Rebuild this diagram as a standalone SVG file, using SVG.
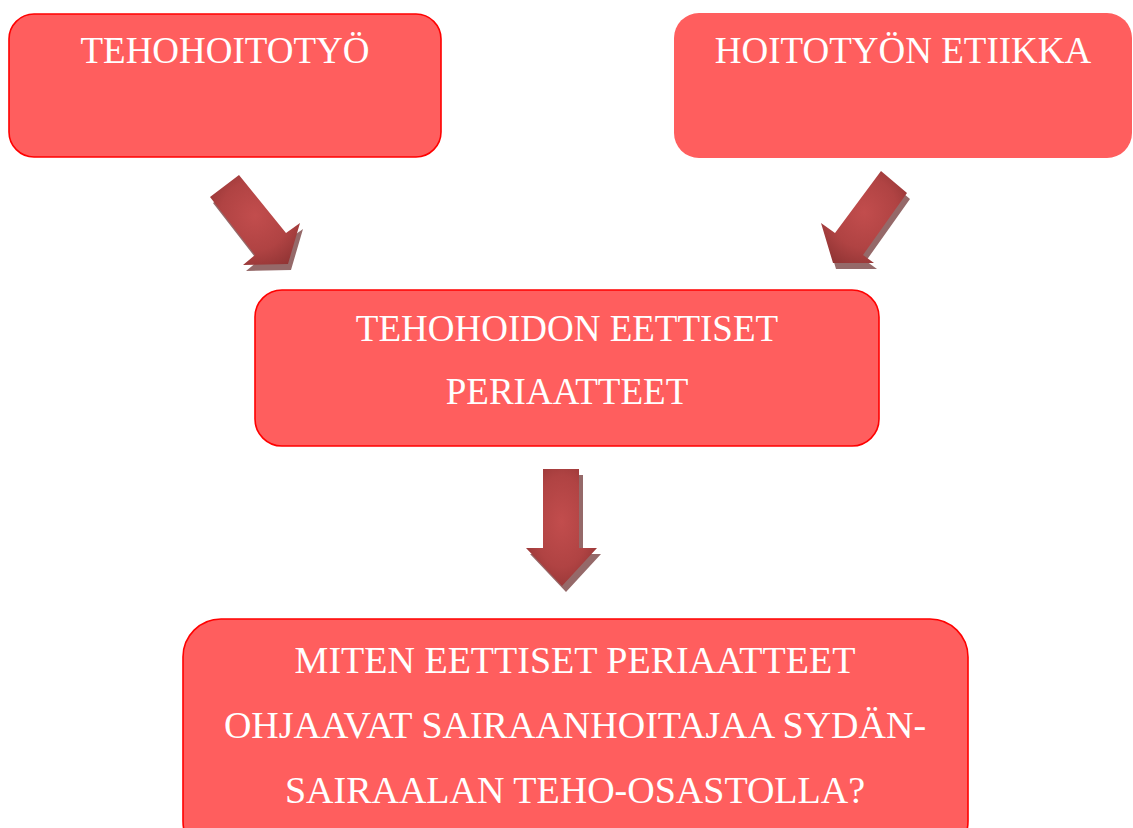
<svg xmlns="http://www.w3.org/2000/svg" width="1133" height="828" viewBox="0 0 1133 828">
  <defs>
    <style>
      .box { fill: #FF5E5E; stroke: #FF0000; stroke-width: 1.6; }
      .box-ns { fill: #FF5E5E; stroke: none; }
      .lbl { font-family: "Liberation Serif", "Times New Roman", serif; font-size: 37px; fill: #FFFFFF; text-anchor: middle; }
      .lbl-big { font-size: 38px; }
      .arrow { fill: url(#arrowGrad); }
      .shadow { fill: #7A4444; opacity: 0.8; }
    </style>
    <radialGradient id="arrowGrad" cx="0.5" cy="0.45" r="0.65">
      <stop offset="0" stop-color="#C24D4D"/>
      <stop offset="0.6" stop-color="#B04343"/>
      <stop offset="1" stop-color="#903434"/>
    </radialGradient>
  </defs>
  <rect x="0" y="0" width="1133" height="828" fill="#FFFFFF"/>

  <g id="connectors">
    <g id="arrow-left">
      <polygon class="shadow" transform="translate(3,6)" points="210,197 239,175 286,233 300,223 288,264 243,265 255,255"/>
      <polygon class="arrow" points="210,197 239,175 286,233 300,223 288,264 243,265 255,255"/>
    </g>
    <g id="arrow-right">
      <polygon class="shadow" transform="translate(3,6)" points="907,193 881,171 835,233 821,223 833,263 874,263 863,255"/>
      <polygon class="arrow" points="907,193 881,171 835,233 821,223 833,263 874,263 863,255"/>
    </g>
    <g id="arrow-down">
      <polygon class="shadow" transform="translate(4,6)" points="543,469 579,469 579,548 597,548 562,586 526,548 543,548"/>
      <polygon class="arrow" points="543,469 579,469 579,548 597,548 562,586 526,548 543,548"/>
    </g>
  </g>

  <g id="node-tehohoitotyo">
    <rect class="box" x="9" y="14" width="432" height="143" rx="25" ry="25"/>
    <text class="lbl" x="225" y="63">TEHOHOITOTYÖ</text>
  </g>

  <g id="node-hoitotyon-etiikka">
    <rect class="box-ns" x="674" y="13" width="458" height="145" rx="25" ry="25"/>
    <text class="lbl" x="903" y="63">HOITOTYÖN ETIIKKA</text>
  </g>

  <g id="node-eettiset-periaatteet">
    <rect class="box" x="255" y="290" width="624" height="156" rx="27" ry="27"/>
    <text class="lbl" x="567" y="341">TEHOHOIDON EETTISET</text>
    <text class="lbl" x="567" y="404">PERIAATTEET</text>
  </g>

  <g id="node-kysymys">
    <rect class="box" x="183" y="619" width="785" height="240" rx="38" ry="38"/>
    <text class="lbl lbl-big" x="575" y="673">MITEN EETTISET PERIAATTEET</text>
    <text class="lbl lbl-big" x="575" y="738">OHJAAVAT SAIRAANHOITAJAA SYDÄN-</text>
    <text class="lbl lbl-big" x="575" y="803">SAIRAALAN TEHO-OSASTOLLA?</text>
  </g>
</svg>
